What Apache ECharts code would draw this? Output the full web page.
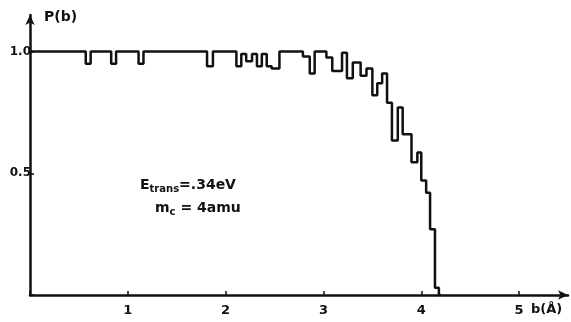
<!DOCTYPE html>
<html>
<head>
<meta charset="utf-8">
<script src="https://cdn.jsdelivr.net/npm/echarts@6/dist/echarts.min.js"></script>
<style>
  html, body { margin: 0; padding: 0; background: #fff; }
  #chart { width: 571px; height: 322px; }
</style>
</head>
<body>
<div id="chart"></div>
<script>
// Impact parameter b (Å) at which each step of the histogram starts
const bStart = [0, 0.57, 0.62, 0.83, 0.88, 1.11, 1.16, 1.81, 1.87, 2.11, 2.16, 2.21, 2.27,
  2.32, 2.37, 2.42, 2.47, 2.55, 2.79, 2.86, 2.91, 3.03, 3.09, 3.19, 3.24, 3.30, 3.38, 3.44,
  3.50, 3.55, 3.60, 3.65, 3.70, 3.76, 3.81, 3.90, 3.96, 4.00, 4.05, 4.09, 4.14, 4.18];
// Probability P(b) on each step
const prob = [1.0, 0.95, 1.0, 0.95, 1.0, 0.95, 1.0, 0.94, 1.0, 0.94, 0.99, 0.96, 0.99,
  0.94, 0.99, 0.94, 0.93, 1.0, 0.98, 0.91, 1.0, 0.975, 0.92, 0.995, 0.89, 0.955, 0.90, 0.93,
  0.82, 0.87, 0.91, 0.79, 0.635, 0.77, 0.66, 0.545, 0.585, 0.47, 0.42, 0.27, 0.03, 0.0];
const xTicks = [1, 2, 3, 4, 5];
const yTicks = [0.5, 1.0];
const yTickText = ['0.5', '1.0'];

const ink = '#111';
const font = 'DejaVu Sans';

const chart = echarts.init(document.getElementById('chart'));
chart.setOption({
  animation: false,
  backgroundColor: '#fff',
  grid: { left: 30, right: 3, top: 15, bottom: 27 },
  xAxis: {
    type: 'value', min: 0, max: 5.5, interval: 1,
    name: 'b(Å)', nameLocation: 'end', nameGap: -37,
    nameTextStyle: { color: ink, fontFamily: font, fontWeight: 'bold', fontSize: 13,
      align: 'left', verticalAlign: 'top', padding: [8, 0, 0, 0] },
    axisLine: { lineStyle: { color: ink, width: 2.5 }, symbol: ['none', 'arrow'], symbolSize: [7, 10] },
    axisTick: { inside: true, length: 4, lineStyle: { color: ink, width: 1.5 } },
    splitLine: { show: false },
    axisLabel: {
      color: ink, fontFamily: font, fontWeight: 'bold', fontSize: 13, margin: 9,
      showMaxLabel: false,
      formatter: v => xTicks.includes(v) ? String(v) : ''
    }
  },
  yAxis: {
    type: 'value', min: 0, max: 1.15, interval: 0.5,
    name: 'P(b)', nameLocation: 'end', nameGap: -2,
    nameTextStyle: { color: ink, fontFamily: font, fontWeight: 'bold', fontSize: 14,
      align: 'left', verticalAlign: 'middle', padding: [0, 0, 0, 14] },
    axisLine: { lineStyle: { color: ink, width: 2.5 }, symbol: ['none', 'arrow'], symbolSize: [7, 10] },
    axisTick: { inside: true, length: 4, lineStyle: { color: ink, width: 1.5 } },
    splitLine: { show: false },
    axisLabel: {
      color: ink, fontFamily: font, fontWeight: 'bold', fontSize: 12, margin: -1,
      showMaxLabel: false,
      formatter: v => {
        const i = yTicks.findIndex(t => Math.abs(t - v) < 1e-9);
        return i >= 0 ? yTickText[i] : '';
      }
    }
  },
  series: [{
    type: 'line',
    step: 'end',
    showSymbol: false,
    data: bStart.map((b, i) => [b, prob[i]]).concat([[4.20, 0]]),
    lineStyle: { color: ink, width: 2.5 },
    z: 3
  }],
  graphic: [
    {
      type: 'text', left: 140, top: 178,
      style: {
        text: '{m|E}{s|trans}{m|=.34eV}',
        rich: {
          m: { fontFamily: font, fontWeight: 'bold', fontSize: 14, fill: ink },
          s: { fontFamily: font, fontWeight: 'bold', fontSize: 10, fill: ink, padding: [9, 0, 0, 0] }
        }
      }
    },
    {
      type: 'text', left: 155, top: 201,
      style: {
        text: '{m|m}{s|c}{m| = 4amu}',
        rich: {
          m: { fontFamily: font, fontWeight: 'bold', fontSize: 14, fill: ink },
          s: { fontFamily: font, fontWeight: 'bold', fontSize: 10, fill: ink, padding: [9, 0, 0, 0] }
        }
      }
    }
  ]
});
</script>
</body>
</html>
